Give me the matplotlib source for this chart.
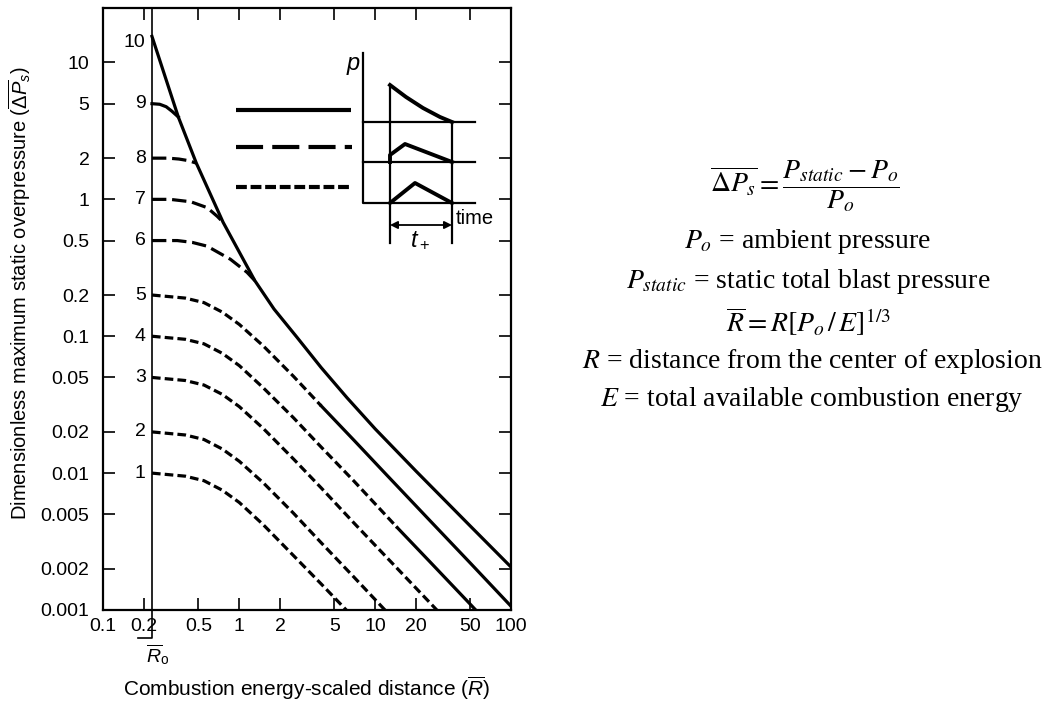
import matplotlib as mpl
import matplotlib.pyplot as plt
from matplotlib.ticker import NullLocator

mpl.rcParams['font.family'] = ['Liberation Sans', 'DejaVu Sans']
mpl.rcParams['mathtext.fontset'] = 'custom'
mpl.rcParams['mathtext.rm'] = 'Liberation Sans'
mpl.rcParams['mathtext.it'] = 'Liberation Sans:italic'
mpl.rcParams['mathtext.bf'] = 'Liberation Sans:bold'

# axis ticks
x_ticks = [0.1, 0.2, 0.5, 1, 2, 5, 10, 20, 50, 100]
x_labels = ['0.1', '0.2', '0.5', '1', '2', '5', '10', '20', '50', '100']
y_ticks = [0.001, 0.002, 0.005, 0.01, 0.02, 0.05, 0.1, 0.2, 0.5, 1, 2, 5, 10]
y_labels = ['0.001', '0.002', '0.005', '0.01', '0.02', '0.05', '0.1', '0.2',
            '0.5', '1', '2', '5', '10']

r0 = 0.228  # charge radius (R-bar_o)

# curve 10 = shock envelope that curves 6..9 run into
env_x = [0.228, 0.28, 0.356, 0.483, 0.76, 1.3, 1.8, 2.66, 4, 6.2, 10, 20, 50, 100]
env_y = [15.5, 8.3, 4.0, 1.84, 0.68, 0.255, 0.158, 0.098, 0.059, 0.0355, 0.021, 0.0103, 0.0041, 0.00205]

c9_x = [0.228, 0.26, 0.29, 0.32, 0.356]
c9_y = [5.0, 4.95, 4.75, 4.4, 4.0]
c8_x = [0.228, 0.3, 0.36, 0.42, 0.483]
c8_y = [2.0, 2.0, 1.97, 1.92, 1.84]
c7_x = [0.228, 0.31, 0.44, 0.58, 0.69, 0.76]
c7_y = [1.0, 1.0, 0.96, 0.87, 0.75, 0.68]
c6_x = [0.228, 0.35, 0.45, 0.58, 0.86, 1.14, 1.3]
c6_y = [0.5, 0.5, 0.485, 0.455, 0.365, 0.293, 0.255]

# curves 1..5
weak_x = [0.228, 0.4, 0.55, 0.75, 1, 1.5, 2.5, 4, 7, 12, 25, 50, 100]
c4_x = [0.228, 0.4, 0.55, 0.75, 1, 1.5, 2.5, 4, 7, 14.5, 25, 50, 100]
c1_y = [0.0100, 0.0095, 0.0088, 0.0075, 0.0061, 0.0042, 0.0025, 0.00155, 0.00087, 0.00049, 0.00023, 0.00011, 0.000053]
c2_y = [0.0200, 0.0190, 0.0176, 0.0150, 0.0122, 0.0085, 0.0051, 0.0031, 0.00173, 0.00098, 0.00045, 0.00022, 0.00011]
c3_y = [0.0500, 0.0475, 0.0440, 0.0376, 0.0306, 0.0212, 0.0127, 0.0078, 0.0043, 0.00245, 0.00114, 0.00055, 0.00027]
c4_y = [0.100, 0.095, 0.088, 0.075, 0.061, 0.042, 0.0254, 0.0155, 0.0087, 0.0040, 0.00227, 0.0011, 0.00053]
c5_y = [0.200, 0.190, 0.176, 0.150, 0.122, 0.085, 0.051, 0.031, 0.0173, 0.0098, 0.00454, 0.0022, 0.00106]

curve_names = ['10', '9', '8', '7', '6', '5', '4', '3', '2', '1']
label_y = [14.0, 5.0, 2.0, 1.0, 0.5, 0.2, 0.1, 0.05, 0.02, 0.01]

# inset sketch (figure pixels, y downwards)
shock_x = [390, 406, 423, 440, 452]
shock_y = [85, 97, 108, 117, 122]
comp_x = [390, 390, 405, 452]
comp_y = [162, 155, 144, 162]
sound_x = [390, 415, 452]
sound_y = [203, 183, 203]

LW = 2.3
long_dash = (0, (4.5, 1.8))
short_dash = (0, (2.7, 1.3))

fig = plt.figure(figsize=(10.48, 7.02), dpi=100)
ax = fig.add_axes([103.3 / 1048, 92 / 702, 408 / 1048, 602 / 702])
ax.set_xscale('log')
ax.set_yscale('log')
ax.set_xlim(0.1, 100)
ax.set_ylim(0.001, 25)

ax.plot(env_x, env_y, color='k', lw=LW)
ax.plot(c9_x, c9_y, color='k', lw=LW)
for cx, cy in [(c8_x, c8_y), (c7_x, c7_y), (c6_x, c6_y)]:
    ax.plot(cx, cy, color='k', lw=LW, linestyle=long_dash)

# 5 and 4 turn into shocks further out
ax.plot(weak_x[:8], c5_y[:8], color='k', lw=LW, linestyle=short_dash)
ax.plot(weak_x[7:], c5_y[7:], color='k', lw=LW)
ax.plot(c4_x[:10], c4_y[:10], color='k', lw=LW, linestyle=short_dash)
ax.plot(c4_x[9:], c4_y[9:], color='k', lw=LW)
for cy in [c3_y, c2_y, c1_y]:
    ax.plot(weak_x, cy, color='k', lw=LW, linestyle=short_dash)

for name, yy in zip(curve_names, label_y):
    ax.text(0.205, yy, name, ha='right', va='center', fontsize=14)

# R0 line, running below the axis
ax.plot([r0, r0, 0.181], [25, 0.00062, 0.00062], color='k', lw=1.2, clip_on=False)

ax.set_xticks(x_ticks, labels=x_labels)
ax.set_yticks(y_ticks, labels=y_labels)
ax.xaxis.set_minor_locator(NullLocator())
ax.yaxis.set_minor_locator(NullLocator())
ax.tick_params(direction='in', length=8.5, width=1.2, top=True, right=True,
               labelsize=14, pad=6)
ax.tick_params(axis='y', pad=10)
for s in ax.spines.values():
    s.set_linewidth(1.6)

fig.text(20 / 1048, 1 - 293 / 702,
         r'Dimensionless maximum static overpressure ($\overline{\Delta P}_s$)',
         rotation=90, ha='center', va='center', fontsize=14.5)
fig.text(307 / 1048, 1 - 688 / 702, r'Combustion energy-scaled distance ($\overline{R}$)',
         ha='center', va='center', fontsize=15)
fig.text(158 / 1048, 1 - 655 / 702, r'$\overline{R}_\mathrm{o}$', ha='center', va='center',
         fontsize=14)

# inset drawn in pixel space
ov = fig.add_axes([0, 0, 1, 1])
ov.set_xlim(0, 1048)
ov.set_ylim(702, 0)
ov.axis('off')
ov.plot([236, 351], [110, 110], color='k', lw=3.0, solid_capstyle='butt')
ov.plot([236, 352], [147, 147], color='k', lw=3.0, linestyle=(0, (6.5, 2.2)))
ov.plot([236, 352], [187, 187], color='k', lw=3.0, linestyle=(0, (2.6, 0.9)))
ov.plot([363, 363, 475], [53, 203, 203], color='k', lw=1.6)
ov.plot([363, 475], [122, 122], color='k', lw=1.6)
ov.plot([363, 475], [162, 162], color='k', lw=1.6)
ov.plot([390, 390], [85, 243], color='k', lw=1.6)
ov.plot([452, 452], [122, 243], color='k', lw=1.6)
ov.plot(shock_x, shock_y, color='k', lw=2.8)
ov.plot(comp_x, comp_y, color='k', lw=2.8)
ov.plot(sound_x, sound_y, color='k', lw=2.8)
ov.annotate('', xy=(390, 225), xytext=(452, 225),
            arrowprops=dict(arrowstyle='<|-|>', color='k', lw=1.3, mutation_scale=11,
                            shrinkA=0, shrinkB=0))
ov.text(353, 66, r'$p$', ha='center', va='center', fontsize=17)
ov.text(456, 218, 'time', ha='left', va='center', fontsize=14.5)
ov.text(420, 240, r'$t_+$', ha='center', va='center', fontsize=17)

# definitions on the right
eq = dict(ha='center', va='center', fontsize=20, family='Liberation Serif', math_fontfamily='stix')
ov.text(805, 186, r'$\overline{\Delta P_s} = \dfrac{P_{static} - P_o}{P_o}$', **eq)
ov.text(808, 241, r'$P_o$ = ambient pressure', **eq)
ov.text(808, 282, r'$P_{static}$ = static total blast pressure', **eq)
ov.text(808, 322, r'$\overline{R} = R[P_o\,/\,E]^{1/3}$', **eq)
ov.text(812, 362, r'$R$ = distance from the center of explosion', **eq)
ov.text(812, 400, r'$E$ = total available combustion energy', **eq)

fig.savefig('out.png', dpi=100)
